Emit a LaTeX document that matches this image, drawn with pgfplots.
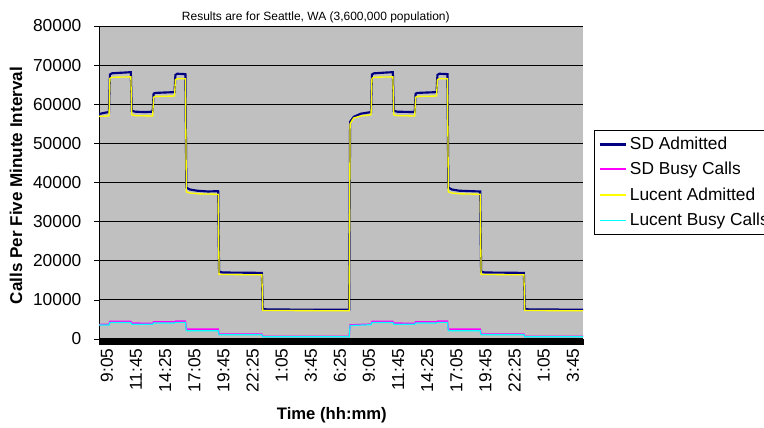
\documentclass[border=0pt]{standalone}
\usepackage{fontspec}
\setmainfont{Liberation Sans}
\usepackage{pgfplots}
\pgfplotsset{compat=1.18}
\definecolor{plotgray}{RGB}{192,192,192}
\definecolor{sdnavy}{RGB}{0,0,128}
\definecolor{sdpink}{RGB}{255,0,255}
\definecolor{luyellow}{RGB}{255,255,0}
\definecolor{lucyan}{RGB}{0,255,255}
\begin{document}
\begin{tikzpicture}[x=1pt,y=1pt]
\useasboundingbox (0,0) rectangle (573,321);
\clip (0,0) rectangle (573,321);
\begin{axis}[
  at={(74.25pt,66.75pt)}, anchor=south west,
  scale only axis, width=363pt, height=234.75pt,
  xmin=0, xmax=532, ymin=0, ymax=80000,
  axis background/.style={fill=plotgray},
  axis x line*=bottom, axis y line*=left,
  axis line style={black, line width=0.75pt},
  ytick={0,10000,...,80000},
  ymajorgrids, major grid style={black, line width=0.6pt},
  scaled y ticks=false,
  /pgf/number format/.cd, 1000 sep={}, assume math mode=true, /pgfplots/.cd,
  xtick={0,32,...,512},
  xticklabels={9:05,11:45,14:25,17:05,19:45,22:25,1:05,3:45,6:25,9:05,11:45,14:25,17:05,19:45,22:25,1:05,3:45},
  minor xtick={0,1,...,532},
  tick align=outside,
  major tick length=3.75pt, minor tick length=4.2pt,
  tick style={black, line width=0.5pt},
  minor tick style={black, line width=0.35pt},
  ticklabel style={font=\fontsize{13}{15}\selectfont},
  yticklabel style={xshift=-6pt},
  xticklabel style={rotate=90, anchor=east, yshift=-6pt},
  xlabel={Time (hh:mm)},
  xlabel style={font=\fontsize{12.5}{15}\selectfont\bfseries, at={(0.481,-0.243)}, anchor=center},
  ylabel={Calls Per Five Minute Interval},
  ylabel style={font=\fontsize{12.8}{15}\selectfont\bfseries, at={(-0.1715,0.49)}, anchor=center, rotate=0},
  title={Results are for Seattle, WA (3,600,000 population)},
  title style={font=\fontsize{9}{11}\selectfont, at={(0.448,1.035)}, anchor=center, yshift=-7.5pt},
  legend style={at={(1.0227,0.6677)}, anchor=north west, draw=black, line width=0.75pt, fill=white,
    font=\fontsize{13}{15}\selectfont, row sep=4pt, inner xsep=3pt, inner ysep=3pt},
  legend cell align=left,
]
\addplot[color=sdnavy, line width=1.6pt, forget plot] coordinates {
(0,57500)(4,57700)(8,57900)(11,58000)
(12,67600)(14,67900)(20,68000)(28,68100)(35,68200)
(36,58300)(40,58100)(50,58000)(59,58100)
(60,62700)(62,62900)(72,63000)(83,63100)
(84,67500)(86,67800)(95,67700)
(96,38700)(100,38200)(108,37900)(120,37700)(131,37800)
(132,17200)(136,17000)(179,16900)
(180,7700)(185,7550)(230,7500)(275,7500)
(276,55500)(280,56800)(288,57600)(299,58000)
(300,67600)(302,67900)(315,68100)(323,68200)
(324,58300)(328,58100)(347,58000)
(348,62700)(350,62900)(371,63100)
(372,67500)(374,67800)(383,67700)
(384,38700)(388,38200)(396,37900)(419,37700)
(420,17200)(424,17000)(467,16900)
(468,7700)(473,7550)(532,7500)
};
\addplot[color=sdpink, line width=1.1pt, forget plot] coordinates {
(0,3700)(11,3750)(12,4500)(35,4500)(36,4050)(59,4000)(60,4350)(83,4350)(84,4550)(95,4550)(96,2500)(131,2500)(132,1250)(179,1250)(180,650)(275,650)(276,3600)(299,3800)(300,4500)(323,4500)(324,4050)(347,4000)(348,4350)(371,4350)(372,4550)(383,4550)(384,2500)(419,2500)(420,1250)(467,1250)(468,650)(532,650)
};
\addplot[color=luyellow, line width=1pt, forget plot] coordinates {
(0,56900)(11,57000)
(12,66600)(14,66900)(35,67000)
(36,57300)(40,57100)(59,57000)
(60,61800)(62,62000)(83,62100)
(84,66300)(86,66500)(95,66500)
(96,37600)(100,37300)(110,37100)(131,37000)
(132,16500)(179,16400)
(180,7300)(275,7200)
(276,55000)(280,56500)(288,57000)(299,57300)
(300,66600)(302,66900)(323,67000)
(324,57300)(328,57100)(347,57000)
(348,61800)(350,62000)(371,62100)
(372,66300)(374,66500)(383,66500)
(384,37600)(388,37300)(398,37100)(419,37000)
(420,16500)(467,16400)
(468,7300)(532,7200)
};
\addplot[color=lucyan, line width=0.9pt, forget plot] coordinates {
(0,3550)(11,3600)(12,4200)(35,4200)(36,3750)(59,3750)(60,4100)(83,4100)(84,4250)(95,4250)(96,2100)(131,2100)(132,1100)(179,1100)(180,560)(275,560)(276,3450)(299,3650)(300,4200)(323,4200)(324,3750)(347,3750)(348,4100)(371,4100)(372,4250)(383,4250)(384,2100)(419,2100)(420,1100)(467,1100)(468,560)(532,560)
};
\addlegendimage{legend image code/.code={\draw[sdnavy, line width=1.6pt] (0pt,0pt) -- (20pt,0pt);}}
\addlegendentry{SD Admitted}
\addlegendimage{legend image code/.code={\draw[sdpink, line width=1.5pt] (0pt,0.4pt) -- (20pt,0.4pt);}}
\addlegendentry{SD Busy Calls}
\addlegendimage{legend image code/.code={\draw[luyellow, line width=1pt] (0pt,0pt) -- (20pt,0pt);}}
\addlegendentry{Lucent Admitted}
\addlegendimage{legend image code/.code={\draw[lucyan, line width=0.9pt] (0pt,0pt) -- (20pt,0pt);}}
\addlegendentry{Lucent Busy Calls}
\end{axis}
\end{tikzpicture}
\end{document}
